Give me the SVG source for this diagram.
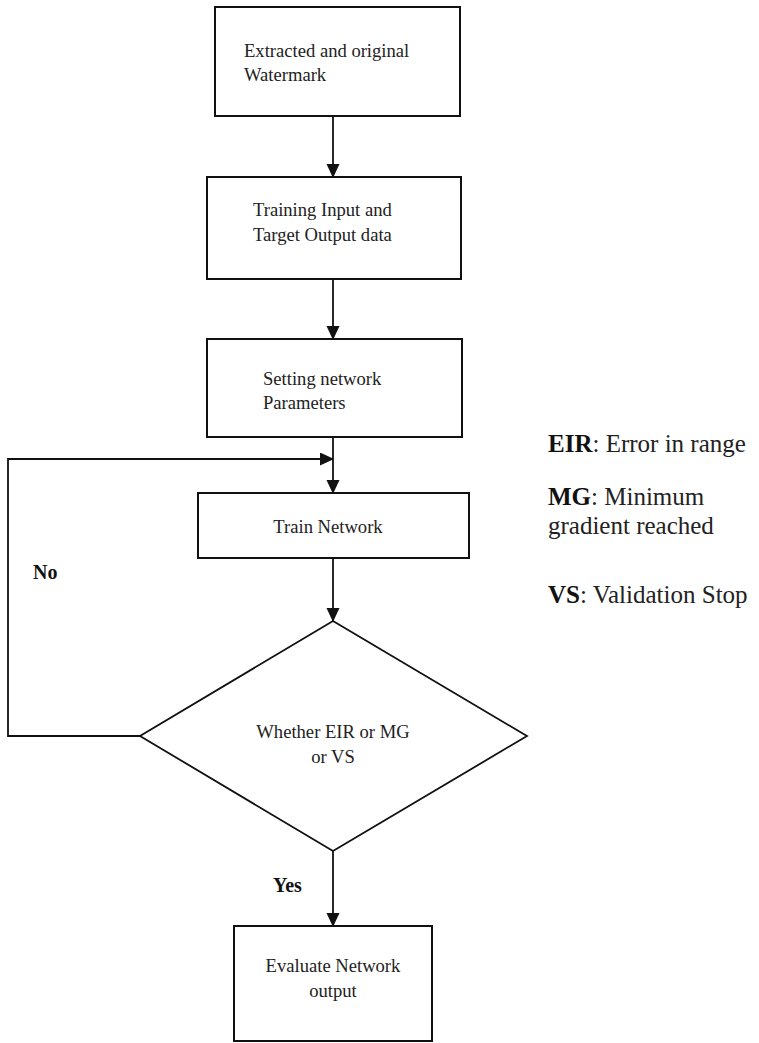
<svg xmlns="http://www.w3.org/2000/svg" width="759" height="1043" viewBox="0 0 759 1043">
<defs>
<marker id="ah" markerWidth="13" markerHeight="15" refX="13" refY="6.5" orient="auto" markerUnits="userSpaceOnUse">
<path d="M0,0 L14,6.5 L0,13 Z" fill="#111"/>
</marker>
<style>
.box{fill:#fff;stroke:#111;stroke-width:2}
.t{font-family:"Liberation Serif","Times New Roman",serif;font-size:18.6px;fill:#222}
.c{text-anchor:middle}
.lbl{font-family:"Liberation Serif","Times New Roman",serif;font-size:20px;font-weight:bold;fill:#111}
.lg{font-family:"Liberation Serif","Times New Roman",serif;font-size:25px;fill:#222}
.lg tspan.b{font-weight:bold;fill:#111}
.ln{fill:none;stroke:#111;stroke-width:1.8}
</style>
</defs>
<rect width="759" height="1043" fill="#fff"/>
<g id="connectors">
<line class="ln" x1="333" y1="116" x2="333" y2="177" marker-end="url(#ah)"/>
<line class="ln" x1="333" y1="279" x2="333" y2="339" marker-end="url(#ah)"/>
<line class="ln" x1="333" y1="437" x2="333" y2="493" marker-end="url(#ah)"/>
<line class="ln" x1="333" y1="558" x2="333" y2="621" marker-end="url(#ah)"/>
<polyline class="ln" points="140,736 8,736 8,459 333,459" marker-end="url(#ah)"/>
<line class="ln" x1="333" y1="851" x2="333" y2="926" marker-end="url(#ah)"/>
<text class="lbl" x="33" y="579">No</text>
<text class="lbl" x="273" y="892">Yes</text>
</g>
<g id="n1">
<rect class="box" x="215" y="7" width="245" height="109"/>
<text class="t" x="244" y="57">Extracted and original</text>
<text class="t" x="244" y="81">Watermark</text>
</g>
<g id="n2">
<rect class="box" x="207" y="177" width="254" height="102"/>
<text class="t" x="253" y="216">Training Input and</text>
<text class="t" x="253" y="241">Target Output data</text>
</g>
<g id="n3">
<rect class="box" x="207" y="339" width="255" height="98"/>
<text class="t" x="263" y="385">Setting network</text>
<text class="t" x="263" y="409">Parameters</text>
</g>
<g id="n4">
<rect class="box" x="198" y="493" width="271" height="65"/>
<text class="t c" x="328" y="533">Train Network</text>
</g>
<g id="n5">
<polygon points="333,621 527,736 333,851 140,736" fill="#fff" stroke="#111" stroke-width="1.8"/>
<text class="t c" x="333" y="738">Whether EIR or MG</text>
<text class="t c" x="333" y="763">or VS</text>
</g>
<g id="n6">
<rect class="box" x="234" y="926" width="198" height="115"/>
<text class="t c" x="333" y="972">Evaluate Network</text>
<text class="t c" x="333" y="997">output</text>
</g>
<g id="legend">
<text class="lg" x="548" y="452"><tspan class="b">EIR</tspan>: Error in range</text>
<text class="lg" x="548" y="505"><tspan class="b">MG</tspan>: Minimum</text>
<text class="lg" x="548" y="534">gradient reached</text>
<text class="lg" x="548" y="603"><tspan class="b">VS</tspan>: Validation Stop</text>
</g>
</svg>
